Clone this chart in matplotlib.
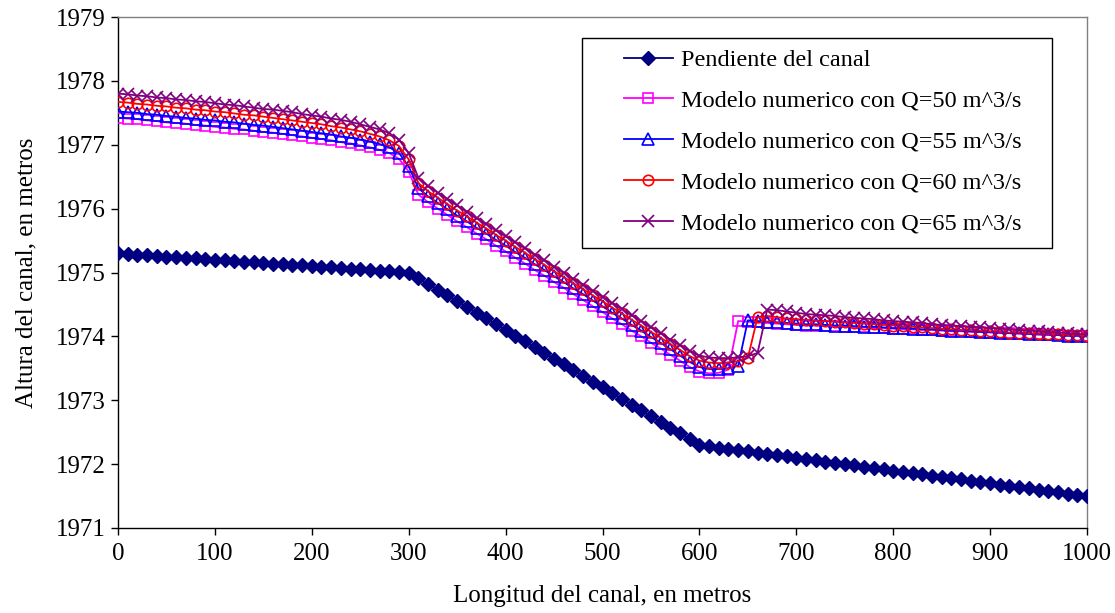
import matplotlib
matplotlib.use("Agg")
import matplotlib.pyplot as plt
from matplotlib.patches import Rectangle

plt.rcParams['font.family'] = ['Liberation Serif', 'DejaVu Serif']

x_m = [0, 10, 20, 30, 40, 50, 60, 70, 80, 90,
       100, 110, 120, 130, 140, 150, 160, 170, 180, 190,
       200, 210, 220, 230, 240, 250, 260, 270, 280, 290,
       300, 310, 320, 330, 340, 350, 360, 370, 380, 390,
       400, 410, 420, 430, 440, 450, 460, 470, 480, 490,
       500, 510, 520, 530, 540, 550, 560, 570, 580, 590,
       600, 610, 620, 630, 640, 650, 660, 670, 680, 690,
       700, 710, 720, 730, 740, 750, 760, 770, 780, 790,
       800, 810, 820, 830, 840, 850, 860, 870, 880, 890,
       900, 910, 920, 930, 940, 950, 960, 970, 980, 990, 1000]

pendiente = [1975.30, 1975.29, 1975.28, 1975.27, 1975.26, 1975.25, 1975.24, 1975.23, 1975.22, 1975.21,
             1975.20, 1975.19, 1975.18, 1975.17, 1975.16, 1975.15, 1975.14, 1975.13, 1975.12, 1975.11,
             1975.10, 1975.09, 1975.08, 1975.07, 1975.06, 1975.05, 1975.04, 1975.03, 1975.02, 1975.01,
             1975.00, 1974.91, 1974.82, 1974.73, 1974.64, 1974.55, 1974.46, 1974.37, 1974.28, 1974.19,
             1974.10, 1974.01, 1973.92, 1973.83, 1973.74, 1973.65, 1973.56, 1973.47, 1973.38, 1973.29,
             1973.20, 1973.11, 1973.02, 1972.93, 1972.84, 1972.75, 1972.66, 1972.57, 1972.48, 1972.39,
             1972.30, 1972.28, 1972.26, 1972.24, 1972.22, 1972.20, 1972.18, 1972.16, 1972.14, 1972.12,
             1972.10, 1972.08, 1972.06, 1972.04, 1972.02, 1972.00, 1971.98, 1971.96, 1971.94, 1971.92,
             1971.90, 1971.88, 1971.86, 1971.84, 1971.82, 1971.80, 1971.78, 1971.76, 1971.74, 1971.72,
             1971.70, 1971.68, 1971.66, 1971.64, 1971.62, 1971.60, 1971.58, 1971.56, 1971.54, 1971.52, 1971.50]

q50 = [1977.42, 1977.41, 1977.40, 1977.38, 1977.37, 1977.35, 1977.34, 1977.33, 1977.31, 1977.30,
       1977.28, 1977.27, 1977.25, 1977.24, 1977.22, 1977.20, 1977.19, 1977.17, 1977.15, 1977.13,
       1977.11, 1977.09, 1977.07, 1977.04, 1977.02, 1976.99, 1976.96, 1976.92, 1976.87, 1976.78,
       1976.58, 1976.22, 1976.10, 1976.00, 1975.90, 1975.80, 1975.71, 1975.61, 1975.52, 1975.42,
       1975.33, 1975.23, 1975.14, 1975.04, 1974.95, 1974.85, 1974.76, 1974.66, 1974.57, 1974.47,
       1974.38, 1974.28, 1974.19, 1974.09, 1974.00, 1973.90, 1973.81, 1973.71, 1973.62, 1973.52,
       1973.45, 1973.42, 1973.43, 1973.48, 1974.24, 1974.23, 1974.22, 1974.21, 1974.20, 1974.19,
       1974.18, 1974.17, 1974.17, 1974.16, 1974.16, 1974.15, 1974.14, 1974.14, 1974.13, 1974.13,
       1974.12, 1974.11, 1974.11, 1974.10, 1974.10, 1974.09, 1974.08, 1974.08, 1974.07, 1974.07,
       1974.06, 1974.05, 1974.05, 1974.04, 1974.04, 1974.03, 1974.02, 1974.02, 1974.01, 1974.01, 1974.00]

q55 = [1977.52, 1977.51, 1977.50, 1977.48, 1977.47, 1977.45, 1977.44, 1977.42, 1977.41, 1977.39,
       1977.38, 1977.36, 1977.35, 1977.33, 1977.31, 1977.30, 1977.28, 1977.26, 1977.24, 1977.22,
       1977.20, 1977.18, 1977.16, 1977.13, 1977.11, 1977.08, 1977.05, 1977.01, 1976.96, 1976.87,
       1976.66, 1976.32, 1976.19, 1976.09, 1975.99, 1975.89, 1975.80, 1975.70, 1975.61, 1975.51,
       1975.42, 1975.32, 1975.23, 1975.13, 1975.04, 1974.94, 1974.85, 1974.75, 1974.66, 1974.56,
       1974.47, 1974.37, 1974.28, 1974.18, 1974.09, 1973.99, 1973.90, 1973.80, 1973.70, 1973.60,
       1973.52, 1973.49, 1973.49, 1973.50, 1973.54, 1974.25, 1974.24, 1974.23, 1974.22, 1974.21,
       1974.20, 1974.19, 1974.19, 1974.18, 1974.17, 1974.17, 1974.16, 1974.15, 1974.15, 1974.14,
       1974.13, 1974.13, 1974.12, 1974.11, 1974.11, 1974.10, 1974.09, 1974.09, 1974.08, 1974.07,
       1974.07, 1974.06, 1974.05, 1974.05, 1974.04, 1974.03, 1974.03, 1974.02, 1974.01, 1974.01, 1974.00]

q60 = [1977.67, 1977.66, 1977.64, 1977.63, 1977.61, 1977.60, 1977.58, 1977.57, 1977.55, 1977.54,
       1977.52, 1977.51, 1977.49, 1977.47, 1977.46, 1977.44, 1977.42, 1977.40, 1977.38, 1977.36,
       1977.34, 1977.32, 1977.29, 1977.27, 1977.24, 1977.21, 1977.17, 1977.13, 1977.07, 1976.98,
       1976.77, 1976.40, 1976.27, 1976.17, 1976.07, 1975.97, 1975.88, 1975.78, 1975.69, 1975.59,
       1975.50, 1975.40, 1975.31, 1975.21, 1975.12, 1975.02, 1974.93, 1974.83, 1974.74, 1974.64,
       1974.55, 1974.45, 1974.36, 1974.26, 1974.17, 1974.07, 1973.98, 1973.88, 1973.79, 1973.69,
       1973.62, 1973.59, 1973.58, 1973.59, 1973.61, 1973.66, 1974.30, 1974.32, 1974.30, 1974.28,
       1974.27, 1974.26, 1974.25, 1974.24, 1974.23, 1974.22, 1974.21, 1974.20, 1974.19, 1974.18,
       1974.17, 1974.16, 1974.15, 1974.14, 1974.13, 1974.12, 1974.11, 1974.10, 1974.10, 1974.09,
       1974.08, 1974.07, 1974.06, 1974.06, 1974.05, 1974.04, 1974.04, 1974.03, 1974.02, 1974.02, 1974.01]

q65 = [1977.80, 1977.79, 1977.77, 1977.76, 1977.74, 1977.73, 1977.71, 1977.70, 1977.68, 1977.67,
       1977.65, 1977.63, 1977.62, 1977.60, 1977.58, 1977.56, 1977.55, 1977.53, 1977.51, 1977.48,
       1977.46, 1977.44, 1977.41, 1977.39, 1977.36, 1977.32, 1977.28, 1977.24, 1977.18, 1977.08,
       1976.87, 1976.48, 1976.35, 1976.25, 1976.15, 1976.05, 1975.95, 1975.85, 1975.76, 1975.66,
       1975.57, 1975.47, 1975.38, 1975.28, 1975.19, 1975.09, 1975.00, 1974.90, 1974.81, 1974.71,
       1974.62, 1974.52, 1974.43, 1974.33, 1974.24, 1974.14, 1974.05, 1973.95, 1973.86, 1973.77,
       1973.70, 1973.67, 1973.66, 1973.66, 1973.67, 1973.69, 1973.74, 1974.42, 1974.41, 1974.39,
       1974.37, 1974.35, 1974.34, 1974.33, 1974.32, 1974.30, 1974.29, 1974.28, 1974.27, 1974.25,
       1974.24, 1974.23, 1974.22, 1974.21, 1974.19, 1974.18, 1974.17, 1974.16, 1974.15, 1974.14,
       1974.13, 1974.12, 1974.11, 1974.10, 1974.09, 1974.08, 1974.07, 1974.06, 1974.05, 1974.04, 1974.03]

labels = ["Pendiente del canal",
          "Modelo numerico con Q=50 m^3/s",
          "Modelo numerico con Q=55 m^3/s",
          "Modelo numerico con Q=60 m^3/s",
          "Modelo numerico con Q=65 m^3/s"]

x_ticks = [0, 100, 200, 300, 400, 500, 600, 700, 800, 900, 1000]
y_ticks = [1971, 1972, 1973, 1974, 1975, 1976, 1977, 1978, 1979]

FS = 18
LFS = 17.5
W, H = 1115, 613

fig = plt.figure(figsize=(W / 100, H / 100), dpi=100)
ax = fig.add_axes([118 / W, 1 - 528 / H, (1087 - 118) / W, (528 - 17) / H])

ax.plot(x_m, pendiente, color='#000080', lw=1.3, marker='D', ms=7,
        mfc='#000080', mec='#000080', label=labels[0], zorder=3)
ax.plot(x_m, q50, color='#FF00FF', lw=1.3, marker='s', ms=7, mfc='none',
        mec='#FF00FF', mew=1.2, label=labels[1], zorder=3)
ax.plot(x_m, q55, color='#0000FF', lw=1.3, marker='^', ms=8, mfc='none',
        mec='#0000FF', mew=1.2, label=labels[2], zorder=4)
ax.plot(x_m, q60, color='#FF0000', lw=1.3, marker='o', ms=7.5, mfc='none',
        mec='#FF0000', mew=1.2, label=labels[3], zorder=5)
ax.plot(x_m, q65, color='#800080', lw=1.3, marker='x', ms=8, mfc='none',
        mec='#800080', mew=1.2, label=labels[4], zorder=6)

ax.set_xlim(0, 1000)
ax.set_ylim(1971, 1979)
ax.set_xticks(x_ticks)
ax.set_yticks(y_ticks)
ax.tick_params(axis='both', direction='out', length=5, width=1, labelsize=FS, colors='black')
ax.tick_params(axis='x', pad=6)
ax.tick_params(axis='y', pad=4)

for s in ['left', 'bottom']:
    ax.spines[s].set_color('black')
    ax.spines[s].set_linewidth(1.0)
for s in ['right', 'top']:
    ax.spines[s].set_color('#808080')
    ax.spines[s].set_linewidth(1.0)

ax.set_xlabel("Longitud del canal, en metros", fontsize=FS, labelpad=14)
ax.set_ylabel("Altura del canal, en metros", fontsize=FS, labelpad=13)

# legend box
ax.add_patch(Rectangle((582 / W, 1 - 248 / H), (1052 - 582) / W, (248 - 38) / H,
                       transform=fig.transFigure, facecolor='white',
                       edgecolor='black', linewidth=1.0, zorder=9, clip_on=False))
leg = ax.legend(loc='upper left', bbox_to_anchor=(624 / W, 1 - 49 / H),
                bbox_transform=fig.transFigure, frameon=False,
                fontsize=LFS, handlelength=2.0, handletextpad=0.35,
                labelspacing=0.78, borderpad=0, borderaxespad=0)
leg.set_zorder(10)

fig.savefig("out.png", dpi=100)
